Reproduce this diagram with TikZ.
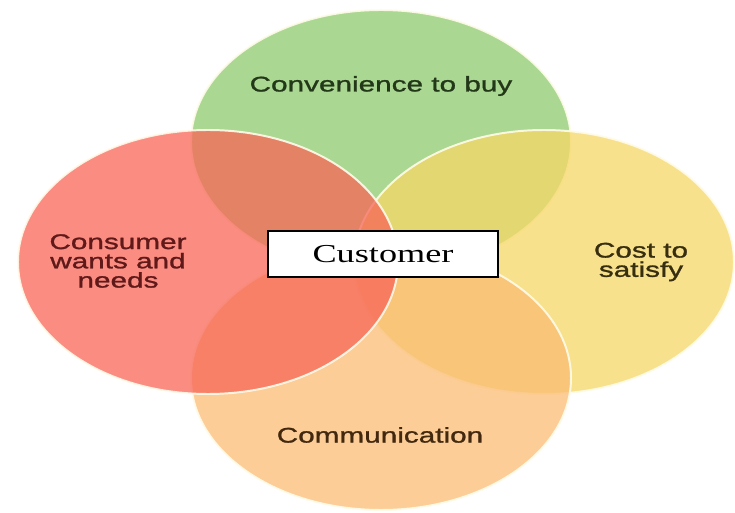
\documentclass[tikz,border=0pt]{standalone}
\usepackage{fontspec}
\usetikzlibrary{
    shapes.geometric
}
\newfontfamily\petalfont{Liberation Sans}[FakeStretch=1.4,FakeBold=1.2]
\newfontfamily\hubfont{Liberation Serif}[FakeStretch=1.4]

\definecolor{convgreen}{RGB}{142,202,108}
\definecolor{wantred}{RGB}{248,102,88}
\definecolor{costyellow}{RGB}{246,215,102}
\definecolor{commorange}{RGB}{251,188,115}
\definecolor{rimcream}{RGB}{255,252,235}

\begin{document}
\begin{tikzpicture}[
    petal/.style={
        ellipse,
        draw=rimcream,
        line width=1.4pt,
        fill opacity=0.75,
        draw opacity=0.9,
        minimum width=9.5cm,
        minimum height=6.6cm,
        inner sep=0pt
    },
    petaltext/.style={
        font=\petalfont\fontsize{15.1}{13.7}\selectfont,
        align=center
    },
    hub/.style={
        rectangle,
        draw=black,
        line width=1pt,
        fill=white,
        minimum width=5.75cm,
        minimum height=1.15cm,
        font=\hubfont\fontsize{18.4}{20}\selectfont
    }
]

\useasboundingbox (0,0) rectangle (18.375,-12.825);

% the four circles, back to front

\node[petal, fill=convgreen] (convenience) at (9.525,-3.55) {};

\node[petal, fill=costyellow] (cost) at (13.6,-6.55) {};

\node[petal, fill=commorange] (communication) at (9.525,-9.45) {};

\node[petal, fill=wantred] (wants) at (5.2,-6.55) {};

% centre box

\node[hub] (customer) at (9.575,-6.35) {Customer};

% circle labels

\node[petaltext, text={rgb,255:red,35;green,55;blue,25}]
    (convlabel) at (9.525,-2.15) {Convenience to buy};

\node[petaltext, text={rgb,255:red,95;green,25;blue,25}]
    (wantslabel) at (2.95,-6.525) {Consumer\\wants and\\needs};

\node[petaltext, text={rgb,255:red,55;green,45;blue,15}]
    (costlabel) at (16.025,-6.55) {Cost to\\satisfy};

\node[petaltext, text={rgb,255:red,65;green,40;blue,15}]
    (commlabel) at (9.5,-10.875) {Communication};

\end{tikzpicture}
\end{document}
